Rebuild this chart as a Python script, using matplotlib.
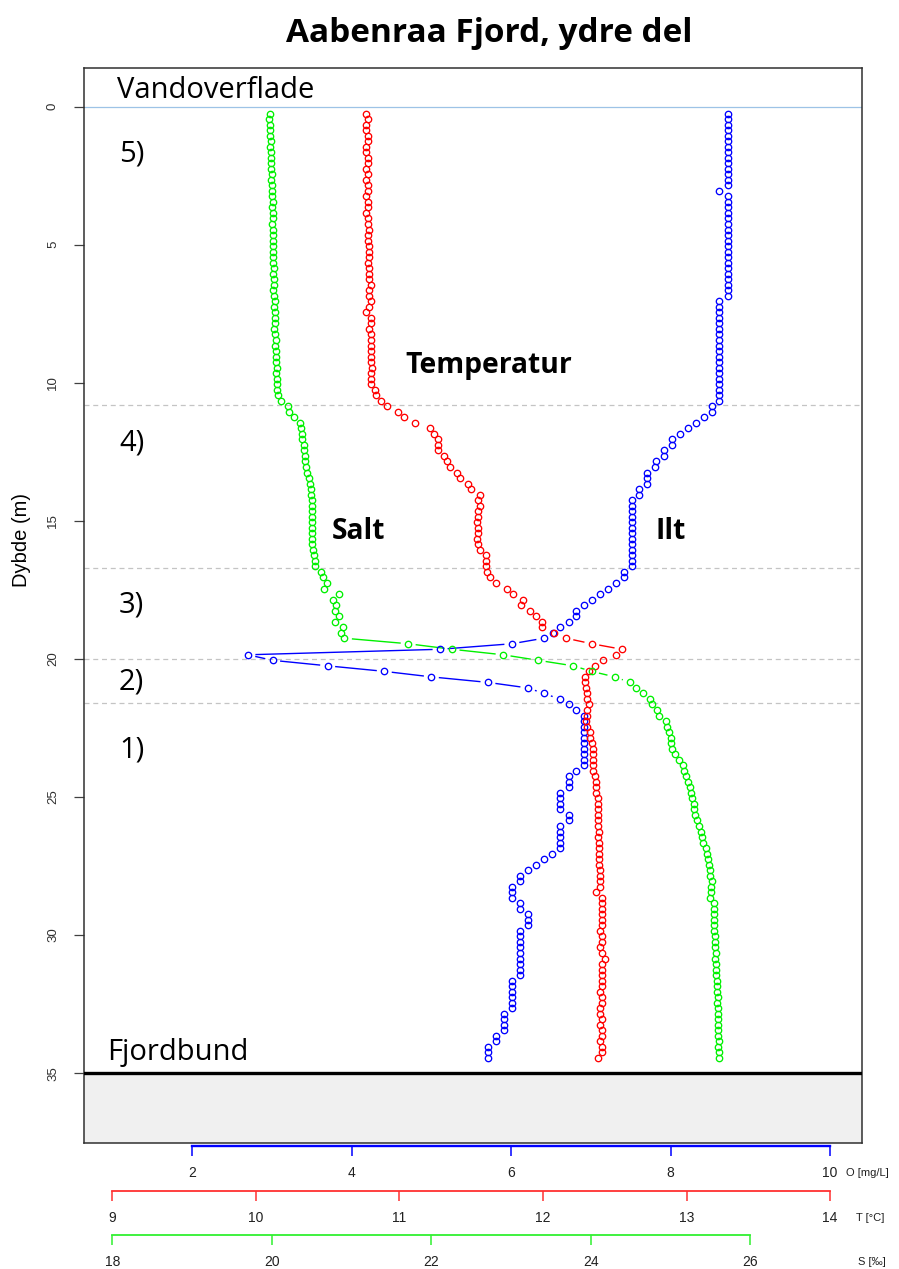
import numpy as np
import matplotlib
matplotlib.use('Agg')
import matplotlib.pyplot as plt
from matplotlib.collections import LineCollection
from matplotlib import font_manager

# ---------------- data ----------------
depth = [
    0.25, 0.45, 0.65, 0.85, 1.05, 1.25, 1.45, 1.65, 1.85, 2.05,
    2.25, 2.45, 2.65, 2.85, 3.05, 3.25, 3.45, 3.65, 3.85, 4.05,
    4.25, 4.45, 4.65, 4.85, 5.05, 5.25, 5.45, 5.65, 5.85, 6.05,
    6.25, 6.45, 6.65, 6.85, 7.05, 7.25, 7.45, 7.65, 7.85, 8.05,
    8.25, 8.45, 8.65, 8.85, 9.05, 9.25, 9.45, 9.65, 9.85, 10.05,
    10.25, 10.45, 10.65, 10.85, 11.05, 11.25, 11.45, 11.65, 11.85, 12.05,
    12.25, 12.45, 12.65, 12.85, 13.05, 13.25, 13.45, 13.65, 13.85, 14.05,
    14.25, 14.45, 14.65, 14.85, 15.05, 15.25, 15.45, 15.65, 15.85, 16.05,
    16.25, 16.45, 16.65, 16.85, 17.05, 17.25, 17.45, 17.65, 17.85, 18.05,
    18.25, 18.45, 18.65, 18.85, 19.05, 19.25, 19.45, 19.65, 19.85, 20.05,
    20.25, 20.45, 20.65, 20.85, 21.05, 21.25, 21.45, 21.65, 21.85, 22.05,
    22.25, 22.45, 22.65, 22.85, 23.05, 23.25, 23.45, 23.65, 23.85, 24.05,
    24.25, 24.45, 24.65, 24.85, 25.05, 25.25, 25.45, 25.65, 25.85, 26.05,
    26.25, 26.45, 26.65, 26.85, 27.05, 27.25, 27.45, 27.65, 27.85, 28.05,
    28.25, 28.45, 28.65, 28.85, 29.05, 29.25, 29.45, 29.65, 29.85, 30.05,
    30.25, 30.45, 30.65, 30.85, 31.05, 31.25, 31.45, 31.65, 31.85, 32.05,
    32.25, 32.45, 32.65, 32.85, 33.05, 33.25, 33.45, 33.65, 33.85, 34.05,
    34.25, 34.45,
]

oxygen = [  # O [mg/L]
    8.72, 8.72, 8.72, 8.72, 8.72, 8.72, 8.72, 8.72, 8.72, 8.72,
    8.72, 8.72, 8.72, 8.72, 8.61, 8.72, 8.72, 8.72, 8.72, 8.72,
    8.72, 8.72, 8.72, 8.72, 8.72, 8.72, 8.72, 8.72, 8.72, 8.72,
    8.72, 8.72, 8.72, 8.72, 8.61, 8.61, 8.61, 8.61, 8.61, 8.61,
    8.61, 8.61, 8.61, 8.61, 8.61, 8.61, 8.61, 8.61, 8.61, 8.61,
    8.61, 8.61, 8.61, 8.52, 8.52, 8.42, 8.32, 8.22, 8.12, 8.02,
    8.02, 7.92, 7.92, 7.82, 7.81, 7.71, 7.71, 7.71, 7.61, 7.61,
    7.51, 7.51, 7.51, 7.51, 7.51, 7.51, 7.51, 7.51, 7.51, 7.51,
    7.51, 7.51, 7.51, 7.42, 7.41, 7.32, 7.21, 7.12, 7.01, 6.92,
    6.81, 6.81, 6.72, 6.61, 6.52, 6.41, 6.01, 5.11, 2.70, 3.01,
    3.70, 4.41, 5.00, 5.71, 6.21, 6.41, 6.61, 6.72, 6.81, 6.91,
    6.91, 6.91, 6.91, 6.91, 6.91, 6.91, 6.91, 6.91, 6.91, 6.81,
    6.72, 6.72, 6.72, 6.61, 6.61, 6.61, 6.61, 6.72, 6.72, 6.61,
    6.61, 6.61, 6.61, 6.61, 6.51, 6.41, 6.31, 6.21, 6.11, 6.11,
    6.01, 6.01, 6.01, 6.11, 6.11, 6.21, 6.21, 6.21, 6.11, 6.11,
    6.11, 6.11, 6.11, 6.11, 6.11, 6.11, 6.11, 6.01, 6.01, 6.01,
    6.01, 6.01, 6.01, 5.91, 5.91, 5.91, 5.91, 5.81, 5.81, 5.71,
    5.71, 5.71,
]

temperature = [  # T [°C]
    10.77, 10.78, 10.77, 10.77, 10.78, 10.78, 10.77, 10.77, 10.78, 10.78,
    10.77, 10.78, 10.77, 10.78, 10.78, 10.77, 10.78, 10.78, 10.77, 10.78,
    10.78, 10.79, 10.78, 10.78, 10.79, 10.79, 10.79, 10.78, 10.79, 10.79,
    10.79, 10.80, 10.79, 10.79, 10.80, 10.79, 10.77, 10.80, 10.80, 10.79,
    10.80, 10.80, 10.80, 10.80, 10.80, 10.80, 10.81, 10.80, 10.80, 10.80,
    10.83, 10.84, 10.87, 10.91, 10.99, 11.03, 11.11, 11.21, 11.24, 11.27,
    11.27, 11.27, 11.31, 11.33, 11.35, 11.40, 11.42, 11.48, 11.50, 11.56,
    11.55, 11.56, 11.55, 11.55, 11.54, 11.55, 11.55, 11.54, 11.55, 11.56,
    11.60, 11.60, 11.60, 11.61, 11.63, 11.67, 11.75, 11.79, 11.86, 11.85,
    11.91, 11.95, 11.99, 11.99, 12.08, 12.16, 12.34, 12.55, 12.51, 12.42,
    12.36, 12.32, 12.29, 12.29, 12.30, 12.31, 12.31, 12.32, 12.31, 12.31,
    12.30, 12.31, 12.33, 12.33, 12.34, 12.35, 12.35, 12.35, 12.35, 12.35,
    12.36, 12.37, 12.37, 12.37, 12.38, 12.38, 12.38, 12.38, 12.38, 12.38,
    12.39, 12.38, 12.39, 12.39, 12.39, 12.39, 12.39, 12.40, 12.40, 12.40,
    12.40, 12.37, 12.41, 12.41, 12.41, 12.41, 12.41, 12.41, 12.40, 12.41,
    12.41, 12.40, 12.41, 12.43, 12.41, 12.41, 12.41, 12.41, 12.41, 12.40,
    12.41, 12.41, 12.40, 12.40, 12.41, 12.40, 12.41, 12.41, 12.40, 12.41,
    12.41, 12.38,
]

salinity = [  # S [‰]
    19.98, 19.97, 19.98, 19.98, 19.98, 19.99, 19.98, 19.99, 19.99, 19.99,
    19.99, 20.00, 19.99, 20.00, 20.00, 20.00, 20.01, 20.00, 20.01, 20.01,
    20.00, 20.01, 20.01, 20.02, 20.01, 20.02, 20.02, 20.02, 20.03, 20.02,
    20.03, 20.03, 20.02, 20.03, 20.04, 20.03, 20.04, 20.04, 20.04, 20.03,
    20.04, 20.05, 20.04, 20.05, 20.05, 20.05, 20.06, 20.05, 20.06, 20.06,
    20.06, 20.08, 20.11, 20.20, 20.22, 20.28, 20.35, 20.37, 20.38, 20.38,
    20.40, 20.40, 20.42, 20.42, 20.43, 20.44, 20.47, 20.48, 20.49, 20.49,
    20.50, 20.50, 20.50, 20.50, 20.50, 20.51, 20.51, 20.51, 20.51, 20.52,
    20.53, 20.54, 20.54, 20.62, 20.64, 20.69, 20.66, 20.84, 20.77, 20.81,
    20.79, 20.84, 20.79, 20.89, 20.87, 20.91, 21.71, 22.26, 22.90, 23.34,
    23.78, 24.01, 24.30, 24.49, 24.57, 24.65, 24.74, 24.77, 24.83, 24.86,
    24.94, 24.96, 24.98, 25.00, 25.01, 25.02, 25.05, 25.11, 25.15, 25.17,
    25.19, 25.22, 25.24, 25.25, 25.27, 25.29, 25.29, 25.31, 25.33, 25.36,
    25.38, 25.39, 25.41, 25.45, 25.46, 25.47, 25.48, 25.49, 25.50, 25.52,
    25.51, 25.51, 25.50, 25.54, 25.55, 25.55, 25.55, 25.55, 25.55, 25.56,
    25.56, 25.56, 25.57, 25.56, 25.57, 25.57, 25.57, 25.58, 25.58, 25.58,
    25.59, 25.58, 25.59, 25.59, 25.59, 25.59, 25.60, 25.60, 25.61, 25.60,
    25.61, 25.61,
]

layer_bounds = [10.8, 16.7, 20.0, 21.6]
layer_labels = ['5)', '4)', '3)', '2)', '1)']
layer_label_baseline_px = [162, 450, 613, 690, 758]
bottom_depth = 35.0
depth_ticks = [0, 5, 10, 15, 20, 25, 30, 35]
o_ticks = [2, 4, 6, 8, 10]
t_ticks = [9, 10, 11, 12, 13, 14]
s_ticks = [18, 20, 22, 24, 26]

# ---------------- fonts ----------------
avail = {f.name for f in font_manager.fontManager.ttflist}
CAL = 'Open Sans' if 'Open Sans' in avail else 'DejaVu Sans'
ARIAL = 'Liberation Sans' if 'Liberation Sans' in avail else 'DejaVu Sans'

# ---------------- layout ----------------
W, H = 899, 1269
fig = plt.figure(figsize=(W / 100, H / 100), dpi=100)
fig.patch.set_facecolor('white')


def fx(px):
    return px / W


def fy(py):
    return 1 - py / H


L, R, T, B = 84, 862, 68, 1143
ax = fig.add_axes([fx(L), fy(B), (R - L) / W, (B - T) / H])
XMIN, XMAX = 0.645, 10.40
YTOP, YBOT = -1.40, 37.53
ax.set_xlim(XMIN, XMAX)
ax.set_ylim(YBOT, YTOP)


# common plotting coordinate = oxygen units
def t_to_p(t):
    return 1 + 1.8 * (np.asarray(t) - 9)


def s_to_p(s):
    return np.asarray(s) - 17


def p_to_t(p):
    return 9 + (p - 1) / 1.8


def p_to_s(p):
    return p + 17


# background elements
ax.axhspan(bottom_depth, YBOT, color='#f0f0f0', zorder=0, lw=0)
ax.axhline(bottom_depth, color='black', lw=2.4, zorder=3)
ax.axhline(0, color='#9dc3e6', lw=0.9, zorder=1)
for b in layer_bounds:
    ax.axhline(b, color='#c4c4c4', lw=0.9, ls=(0, (4, 3)), zorder=1)

for s in ax.spines.values():
    s.set_color('#303030')
    s.set_linewidth(1.1)
ax.set_xticks([])
ax.set_yticks(depth_ticks)
ax.set_yticklabels([str(v) for v in depth_ticks], rotation=90, va='center',
                   fontsize=9.5, color='#303030', family=ARIAL)
ax.tick_params(axis='y', length=7, width=0.9, color='#404040', pad=11)

fig.canvas.draw()
GAP = 7.5


def gapped_line(x, y, color):
    pts = ax.transData.transform(np.column_stack([x, y]))
    inv = ax.transData.inverted()
    segs = []
    for a, b in zip(pts[:-1], pts[1:]):
        d = b - a
        n = np.hypot(d[0], d[1])
        if n > 2 * GAP + 1:
            u = d / n
            segs.append(inv.transform(np.array([a + u * GAP, b - u * GAP])))
    ax.add_collection(LineCollection(segs, colors=color, linewidths=1.0, zorder=4))


series = [
    (np.asarray(oxygen), '#0000ff'),
    (t_to_p(temperature), '#ff0000'),
    (s_to_p(salinity), '#00f000'),
]
d = np.asarray(depth)
for xs, col in series:
    gapped_line(xs, d, col)
    ax.plot(xs, d, ls='none', marker='o', ms=4.6, mfc='none', mec=col, mew=0.95, zorder=5)

# ---------------- texts ----------------
fig.text(fx(489), fy(42), 'Aabenraa Fjord, ydre del', ha='center', va='baseline',
         fontsize=24, fontweight='bold', family=CAL)
fig.text(fx(117), fy(97.5), 'Vandoverflade', ha='left', va='baseline', fontsize=21, family=CAL)
for lab, yb in zip(layer_labels, layer_label_baseline_px):
    fig.text(fx(119), fy(yb), lab, ha='left', va='baseline', fontsize=21, family=CAL)
fig.text(fx(107), fy(1060), 'Fjordbund', ha='left', va='baseline', fontsize=21, family=CAL)
fig.text(fx(405), fy(373), 'Temperatur', ha='left', va='baseline', fontsize=20.3, fontweight='bold', family=CAL)
fig.text(fx(332), fy(539), 'Salt', ha='left', va='baseline', fontsize=20.3, fontweight='bold', family=CAL)
fig.text(fx(656), fy(539), 'Ilt', ha='left', va='baseline', fontsize=20.3, fontweight='bold', family=CAL)
fig.text(fx(22), fy(540), 'Dybde (m)', rotation=90, ha='center', va='center', fontsize=14.5, family=ARIAL)


# ---------------- bottom scales ----------------
def scale_axis(ypx, xlim, ticks, color, lw, unit, unit_x):
    a = fig.add_axes([fx(L), fy(ypx), (R - L) / W, 0.0001])
    a.set_xlim(*xlim)
    a.set_ylim(0, 1)
    a.patch.set_visible(False)
    for s in ['top', 'left', 'right']:
        a.spines[s].set_visible(False)
    a.spines['bottom'].set_color(color)
    a.spines['bottom'].set_linewidth(lw)
    a.spines['bottom'].set_bounds(ticks[0], ticks[-1])
    a.set_yticks([])
    a.set_xticks(ticks)
    a.set_xticklabels([str(t) for t in ticks], family=ARIAL)
    a.tick_params(axis='x', color=color, labelcolor='#202020', length=7.2, width=1.1,
                  labelsize=10, pad=7)
    fig.text(fx(unit_x), fy(ypx + 27), unit, ha='left', va='center', fontsize=8,
             family=ARIAL, color='#202020')


scale_axis(1146, (XMIN, XMAX), o_ticks, '#0000ff', 1.7, 'O [mg/L]', 846)
scale_axis(1191, (p_to_t(XMIN), p_to_t(XMAX)), t_ticks, '#ff3030', 1.3, 'T [°C]', 856)
scale_axis(1235, (p_to_s(XMIN), p_to_s(XMAX)), s_ticks, '#30f030', 1.3, 'S [‰]', 858)

fig.savefig('out.png', dpi=100, facecolor='white')
